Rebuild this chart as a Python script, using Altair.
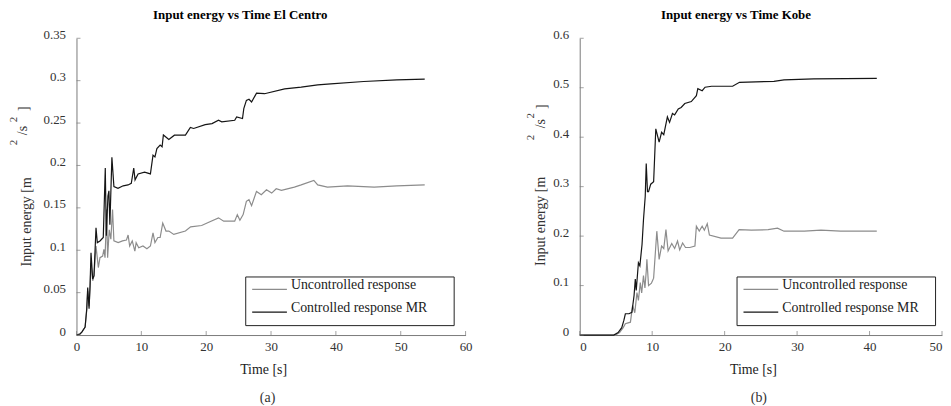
import altair as alt
import pandas as pd

SERIES = ["Uncontrolled response", "Controlled response MR"]
COLORS = ["#8c8c8c", "#151515"]
FONT = "'Liberation Serif', 'Times New Roman', Times, serif"
AXIS_COLOR = "#7a7a7a"
LABEL_COLOR = "#333333"

# ---------------- El Centro ----------------
ec_ctrl_t = [0, 0.5, 0.82, 1.33, 1.58, 1.73, 1.94, 2.09, 2.24, 2.5, 2.7, 3.01, 3.21, 3.62, 4.13,
             4.44, 4.6, 4.85, 5.0, 5.15, 5.46, 5.77, 6.4, 7.2, 7.95, 8.45, 8.83, 9.03, 9.5, 10.5,
             11.4, 11.8, 12.1, 12.4, 12.9, 13.2, 13.4, 14.24, 15.1, 16.8, 17.56, 18.07, 19.85,
             20.9, 21.9, 22.4, 24.4, 24.7, 25.6, 25.8, 26.2, 26.6, 27.0, 27.76, 29.0, 32.1,
             34.65, 37.2, 39.2, 44.3, 49.4, 53.7]
ec_ctrl_e = [0, 0.001, 0.0035, 0.0094, 0.031, 0.056, 0.031, 0.058, 0.097, 0.066, 0.07, 0.1265,
             0.109, 0.111, 0.115, 0.197, 0.117, 0.164, 0.17, 0.13, 0.2096, 0.175, 0.173, 0.176,
             0.177, 0.179, 0.197, 0.183, 0.19, 0.192, 0.19, 0.212, 0.21, 0.22, 0.224, 0.222,
             0.236, 0.2307, 0.2357, 0.2357, 0.2447, 0.2436, 0.2482, 0.2494, 0.2533, 0.2514,
             0.2533, 0.2572, 0.2553, 0.267, 0.2767, 0.278, 0.2748, 0.2853, 0.2846, 0.2904,
             0.2924, 0.295, 0.2963, 0.299, 0.3009, 0.3017]

ec_unc_t = [0, 0.5, 0.82, 1.33, 1.58, 1.73, 1.94, 2.09, 2.24, 2.5, 2.7, 3.01, 3.37, 3.62, 4.03,
            4.23, 4.4, 4.54, 4.64, 4.8, 5.05, 5.3, 5.56, 5.77, 6.43, 7.1, 7.7, 7.96, 8.2, 8.6,
            9.0, 9.2, 9.6, 10.25, 10.86, 11.4, 11.8, 12.1, 12.55, 12.9, 13.3, 13.8, 14.24, 15.0,
            16.8, 17.6, 19.3, 20.4, 21.9, 22.7, 24.4, 24.8, 25.2, 25.7, 26.2, 26.6, 27.0, 27.76,
            28.5, 29.3, 30.1, 30.8, 31.6, 33.6, 34.65, 36.6, 37.2, 38.7, 41.8, 45.9, 49.4, 53.7]
ec_unc_e = [0, 0.001, 0.0035, 0.0094, 0.029, 0.052, 0.034, 0.055, 0.085, 0.064, 0.07, 0.105,
            0.0796, 0.0913, 0.0932, 0.101, 0.0913, 0.1206, 0.148, 0.0913, 0.124, 0.113, 0.148,
            0.111, 0.109, 0.111, 0.112, 0.118, 0.105, 0.111, 0.099, 0.109, 0.103, 0.105, 0.1018,
            0.105, 0.1206, 0.109, 0.115, 0.115, 0.132, 0.1226, 0.1226, 0.1187, 0.1226, 0.1276,
            0.1292, 0.133, 0.1382, 0.1343, 0.1343, 0.142, 0.1354, 0.142, 0.1577, 0.1596, 0.1526,
            0.1694, 0.1655, 0.1713, 0.1674, 0.1725, 0.1706, 0.1745, 0.1771, 0.1823, 0.177,
            0.1745, 0.1759, 0.1745, 0.1759, 0.1771]

# ---------------- Kobe ----------------
kb_ctrl_t = [0, 4.7, 5.3, 5.8, 6.1, 6.3, 6.8, 7.2, 7.5, 7.67, 7.8, 8.1, 8.3, 8.6, 8.8, 9.04, 9.18,
             9.35, 9.5, 9.8, 10.2, 10.5, 10.96, 11.3, 11.6, 12.1, 12.4, 12.8, 13.1, 13.6, 14.0,
             14.5, 15.4, 16.1, 16.3, 16.9, 17.3, 18.2, 21.1, 22.05, 26.8, 28.2, 32.3, 41.0]
kb_ctrl_e = [0, 0, 0.005, 0.015, 0.03, 0.043, 0.043, 0.046, 0.08, 0.113, 0.09, 0.146, 0.14,
             0.183, 0.233, 0.28, 0.347, 0.29, 0.29, 0.305, 0.31, 0.417, 0.39, 0.41, 0.405,
             0.441, 0.43, 0.448, 0.445, 0.457, 0.46, 0.468, 0.472, 0.484, 0.498, 0.494, 0.501,
             0.503, 0.503, 0.511, 0.513, 0.516, 0.518, 0.519]

kb_unc_t = [0, 4.9, 5.5, 6.0, 6.3, 7.0, 7.3, 7.6, 7.9, 8.1, 8.36, 8.55, 8.8, 9.0, 9.2, 9.27, 9.5,
            9.9, 10.2, 10.64, 10.96, 11.3, 11.6, 11.9, 12.2, 12.7, 13.1, 13.5, 13.8, 14.2, 14.6,
            15.2, 15.9, 16.1, 16.5, 16.9, 17.2, 17.6, 17.9, 19.5, 21.1, 22.0, 23.7, 26.0, 27.3,
            28.2, 31.0, 33.3, 36.0, 41.0]
kb_unc_e = [0, 0, 0.005, 0.015, 0.023, 0.026, 0.06, 0.045, 0.086, 0.07, 0.106, 0.085, 0.12,
            0.095, 0.133, 0.153, 0.1, 0.105, 0.115, 0.21, 0.153, 0.18, 0.175, 0.213, 0.17,
            0.185, 0.175, 0.19, 0.172, 0.186, 0.177, 0.177, 0.18, 0.22, 0.21, 0.22, 0.212,
            0.225, 0.202, 0.196, 0.196, 0.213, 0.212, 0.213, 0.216, 0.21, 0.21, 0.212, 0.21,
            0.21]

ec_xticks = [0, 10, 20, 30, 40, 50, 60]
ec_yticks = [0, 0.05, 0.1, 0.15, 0.2, 0.25, 0.3, 0.35]
kb_xticks = [0, 10, 20, 30, 40, 50]
kb_yticks = [0, 0.1, 0.2, 0.3, 0.4, 0.5, 0.6]


def frame(t_u, e_u, t_c, e_c):
    return pd.DataFrame({
        "t": list(t_u) + list(t_c),
        "E": list(e_u) + list(e_c),
        "series": [SERIES[0]] * len(t_u) + [SERIES[1]] * len(t_c),
    })


def one(text):
    return alt.Data(values=[{"txt": text}])


def panel(df, xticks, yticks, W, H, title, title_dx, letter, letter_dx,
          legend_x, npad, yt, flush):
    xs = alt.Scale(domain=[xticks[0], xticks[-1]], nice=False, zero=False)
    ys = alt.Scale(domain=[yticks[0], yticks[-1]], nice=False, zero=False)
    lines = alt.Chart(df).mark_line(strokeWidth=1.2, interpolate="linear").encode(
        x=alt.X("t:Q", scale=xs, axis=alt.Axis(
            values=xticks, title="Time [s]", titleX=W / 2 - 8, titlePadding=9,
            titleFont=FONT, titleFontSize=14, titleFontWeight="normal", titleColor="#222222",
            labelFont=FONT, labelFontSize=13, labelColor=LABEL_COLOR, labelPadding=6,
            labelFlush=flush,
            domainColor=AXIS_COLOR, ticks=False, tickSize=0, grid=False, format="~g")),
        y=alt.Y("E:Q", scale=ys, axis=alt.Axis(
            values=yticks, title=None, labelFont=FONT, labelFontSize=13,
            labelColor=LABEL_COLOR, labelPadding=11, labelBaseline="alphabetic",
            domainColor=AXIS_COLOR, ticks=False, tickSize=0, grid=False, format="~g")),
        color=alt.Color("series:N", scale=alt.Scale(domain=SERIES, range=COLORS),
                        legend=alt.Legend(
                            orient="none", legendX=legend_x, legendY=240, title=None,
                            symbolType="stroke", symbolSize=1225, symbolStrokeWidth=1.3,
                            labelFont=FONT, labelFontSize=14, labelColor="#222222",
                            labelOffset=3, labelBaseline="alphabetic", clipHeight=14,
                            labelExpr="datum.label + '" + "\u2800" * npad + "'",
                            strokeColor="#222222", fillColor="white", padding=6,
                            rowPadding=5, labelLimit=400)),
        order=alt.Order("series:N", sort="descending"),
    )
    xt = alt.Chart(pd.DataFrame({"tx": xticks})).mark_tick(
        orient="vertical", color=AXIS_COLOR, thickness=1, size=4).encode(
        x=alt.X("tx:Q", scale=xs), y=alt.value(H - 2))
    yt_m = alt.Chart(pd.DataFrame({"ty": yticks})).mark_tick(
        orient="horizontal", color=AXIS_COLOR, thickness=1, size=4).encode(
        y=alt.Y("ty:Q", scale=ys), x=alt.value(2))

    def txt(s, x, y, size, angle=270):
        return alt.Chart(one(s)).mark_text(
            font=FONT, fontSize=size, color="#333333", angle=angle,
            align="center", baseline="middle").encode(
            text="txt:N", x=alt.value(x), y=alt.value(y))

    main_x, main_y, sup_x, mid_x, s1, s2, s3, s4 = yt
    ytitle = [
        txt("Input energy [m", main_x, main_y, 14),
        txt("2", sup_x, s1, 11),
        txt("/s", mid_x, s2, 14),
        txt("2", sup_x, s3, 11),
        txt("]", mid_x + 1, s4, 14),
    ]
    lab = txt(letter, W / 2 + letter_dx, H + 63, 14, angle=0)

    return alt.layer(lines, xt, yt_m, *ytitle, lab).properties(
        width=W, height=H,
        title=alt.TitleParams(title, font=FONT, fontSize=13, fontWeight="bold",
                              color="black", dx=title_dx, offset=6),
    )


left = panel(frame(ec_unc_t, ec_unc_e, ec_ctrl_t, ec_ctrl_e), ec_xticks, ec_yticks,
             392, 299, "Input energy vs Time El Centro", -31, "(a)", -3.5, 170, 2,
             (-49.5, 185, -63, -54, 105, 93, 82, 71), False)
right = panel(frame(kb_unc_t, kb_unc_e, kb_ctrl_t, kb_ctrl_e), kb_xticks, kb_yticks,
              365, 299, "Input energy vs Time Kobe", -25, "(b)", -2, 158, 1,
              (-38.5, 184.5, -49, -39, 100, 86, 78, 69), True)

chart = alt.hconcat(left, right, spacing=115, bounds="flush").resolve_scale(
    color="independent").configure_view(stroke=None).properties(
    padding={"left": 0, "top": 0, "right": 0, "bottom": 0},
    background="white")

chart.save("out.html", embed_options={"renderer": "svg", "actions": False})
